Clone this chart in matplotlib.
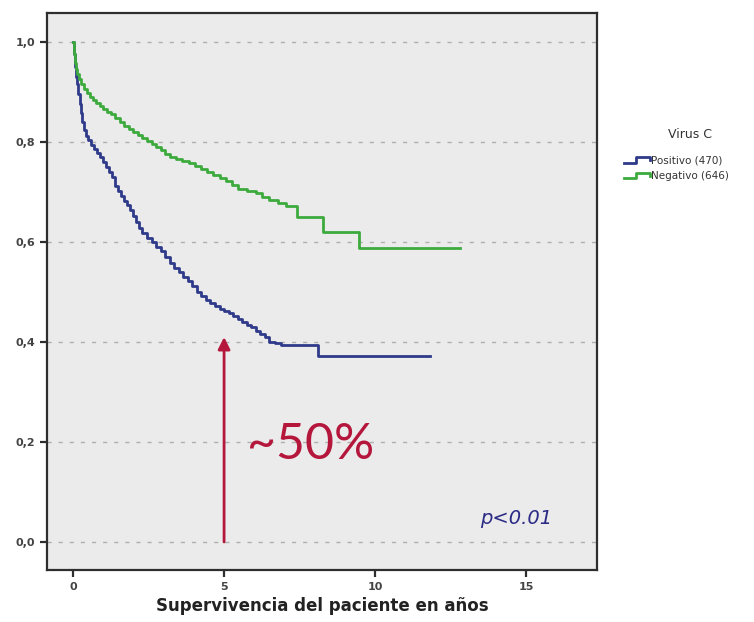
import matplotlib
matplotlib.use("Agg")
import matplotlib.pyplot as plt
from matplotlib.lines import Line2D
from matplotlib.legend_handler import HandlerLine2D

# Kaplan-Meier estimates per group (time in years, survival)
pos_time = [0.00, 0.03, 0.06, 0.10, 0.14, 0.18, 0.22, 0.26, 0.30, 0.35, 0.42, 0.50,
            0.60, 0.70, 0.80, 0.90, 1.00, 1.10, 1.20, 1.30, 1.40, 1.50, 1.60, 1.70,
            1.80, 1.90, 2.00, 2.10, 2.20, 2.30, 2.45, 2.60, 2.75, 2.90, 3.05, 3.20,
            3.35, 3.50, 3.65, 3.80, 3.95, 4.10, 4.25, 4.40, 4.55, 4.70, 4.85, 5.00,
            5.15, 5.30, 5.45, 5.60, 5.75, 5.90, 6.05, 6.20, 6.35, 6.50, 6.70, 6.90,
            8.12, 11.80]
pos_surv = [1.000, 0.975, 0.950, 0.930, 0.915, 0.895, 0.875, 0.858, 0.840, 0.825,
            0.812, 0.805, 0.795, 0.787, 0.778, 0.770, 0.760, 0.750, 0.740, 0.730,
            0.712, 0.702, 0.692, 0.682, 0.675, 0.665, 0.652, 0.640, 0.628, 0.618,
            0.608, 0.600, 0.590, 0.582, 0.570, 0.558, 0.548, 0.540, 0.530, 0.522,
            0.512, 0.500, 0.492, 0.484, 0.478, 0.472, 0.466, 0.462, 0.458, 0.452,
            0.446, 0.440, 0.434, 0.430, 0.422, 0.416, 0.410, 0.400, 0.398, 0.394,
            0.372, 0.372]

neg_time = [0.00, 0.03, 0.06, 0.10, 0.14, 0.20, 0.28, 0.36, 0.45, 0.55, 0.65, 0.75,
            0.88, 1.00, 1.12, 1.25, 1.40, 1.55, 1.70, 1.85, 2.00, 2.15, 2.30, 2.45,
            2.60, 2.75, 2.90, 3.05, 3.20, 3.40, 3.60, 3.85, 4.05, 4.25, 4.45, 4.65,
            4.85, 5.05, 5.25, 5.45, 5.75, 6.05, 6.25, 6.50, 6.80, 7.05, 7.40, 8.28,
            9.48, 12.80]
neg_surv = [1.000, 0.975, 0.958, 0.945, 0.935, 0.925, 0.915, 0.906, 0.898, 0.890,
            0.884, 0.878, 0.872, 0.866, 0.860, 0.855, 0.848, 0.840, 0.833, 0.826,
            0.820, 0.814, 0.808, 0.802, 0.796, 0.790, 0.784, 0.776, 0.770, 0.766,
            0.762, 0.758, 0.752, 0.746, 0.740, 0.734, 0.728, 0.722, 0.715, 0.706,
            0.702, 0.698, 0.690, 0.684, 0.678, 0.672, 0.650, 0.620, 0.588, 0.588]

group_labels = ["Positivo (470)", "Negativo (646)"]
y_ticks = [0.0, 0.2, 0.4, 0.6, 0.8, 1.0]
y_ticklabels = ["0,0", "0,2", "0,4", "0,6", "0,8", "1,0"]
x_ticks = [0, 5, 10, 15]

arrow_x = 5
arrow_from = 0.0
arrow_to = 0.41

blue = "#2F3A8A"
green = "#3CAA3C"
red = "#B5173C"


class StepHandler(HandlerLine2D):
    # draws the legend key as a small step
    def create_artists(self, legend, orig_handle, xdescent, ydescent,
                       width, height, fontsize, trans):
        x0, x1 = -xdescent, -xdescent + width
        y0, y1 = -ydescent + height * 0.15, -ydescent + height * 0.85
        xm = x0 + width * 0.45
        line = Line2D([x0, xm, xm, x1, x1], [y0, y0, y1, y1, y0 + height * 0.35],
                      color=orig_handle.get_color(), lw=orig_handle.get_linewidth())
        line.set_transform(trans)
        return [line]


fig = plt.figure(figsize=(7.54, 6.22), dpi=100)
ax = fig.add_axes([0.0623, 0.0836, 0.7295, 0.8955])
ax.set_facecolor("#EBEBEB")

l1, = ax.step(pos_time, pos_surv, where="post", color=blue, lw=2.0)
l2, = ax.step(neg_time, neg_surv, where="post", color=green, lw=2.0)

ax.set_xlim(-0.86, 17.34)
ax.set_ylim(-0.056, 1.058)
ax.set_yticks(y_ticks)
ax.set_yticklabels(y_ticklabels)
ax.set_xticks(x_ticks)
for yt in y_ticks:
    ax.axhline(yt, color="#AFAFAF", lw=1.0, ls=(0, (3, 5)), zorder=0)

for s in ax.spines.values():
    s.set_color("#2E2E2E")
    s.set_linewidth(1.6)
ax.tick_params(axis="both", direction="out", length=5, width=1.6, color="#2E2E2E",
               labelsize=8, labelcolor="#444444")
for lab in ax.get_xticklabels() + ax.get_yticklabels():
    lab.set_fontweight("bold")

ax.set_xlabel("Supervivencia del paciente en años", fontsize=12, fontweight="bold",
              color="#222222", labelpad=4)

ax.annotate("", xy=(arrow_x, arrow_to), xytext=(arrow_x, arrow_from),
            arrowprops=dict(arrowstyle="-|>", color=red, lw=2.0,
                            mutation_scale=18, shrinkA=0, shrinkB=0))
ax.text(5.75, 0.195, "~50%", color=red, fontsize=36, family="Lato",
        ha="left", va="center")
ax.text(14.65, 0.048, "p<0.01", color="#2B2B86", fontsize=14, style="italic",
        ha="center", va="center")

# legend title placed separately to leave room above the entries
fig.text(0.915, 0.783, "Virus C", fontsize=9, color="#333333",
         ha="center", va="center")
leg = fig.legend([l1, l2], group_labels,
                 handler_map={Line2D: StepHandler()},
                 loc="center left", bbox_to_anchor=(0.828, 0.729), frameon=False,
                 fontsize=7.5, handlelength=2.5, borderpad=0, borderaxespad=0,
                 handletextpad=0.1, labelspacing=0.55)
for t in leg.get_texts():
    t.set_color("#333333")

fig.savefig("out.png", dpi=100)
